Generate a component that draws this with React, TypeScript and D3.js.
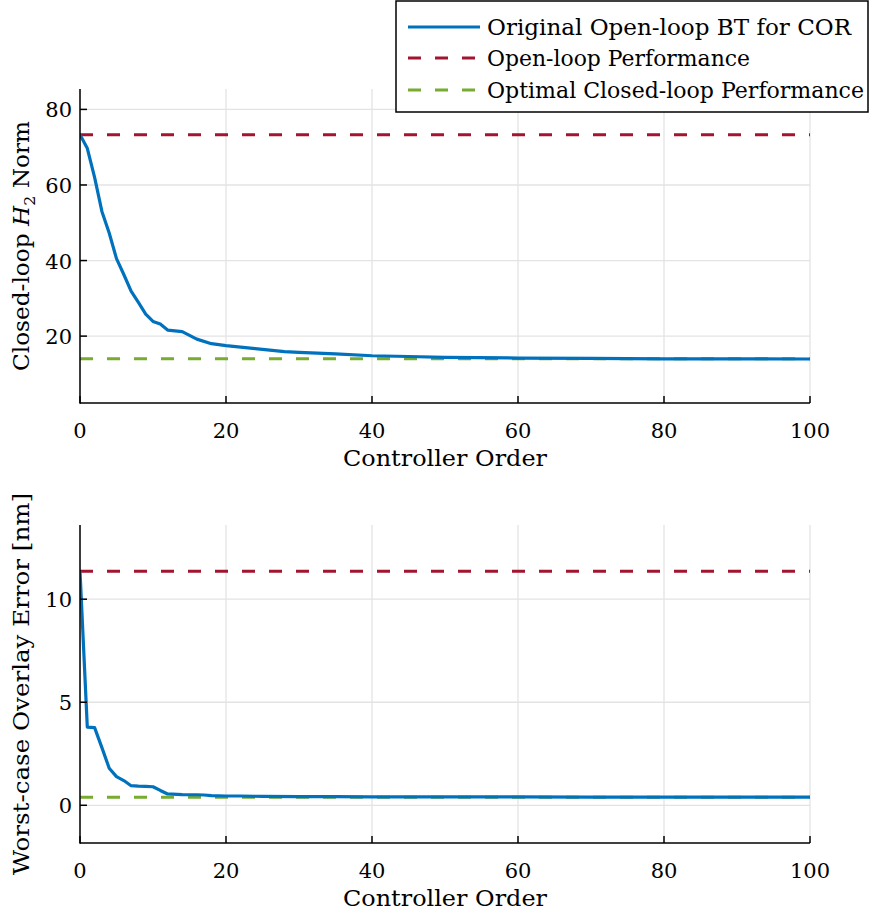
import React from "react";
import * as d3 from "d3";

const orders1 = [0,1,2,3,4,5,6,7,8,9,10,11,12,14,16,18,20,22,24,26,28,30,35,40,45,50,60,70,80,90,100];
const h2Norm = [73.3,69.7,62,53,47.3,40.5,36.3,31.9,28.9,25.8,23.9,23.2,21.6,21.2,19.2,18.0,17.5,17.1,16.7,16.3,15.9,15.7,15.3,14.8,14.6,14.4,14.2,14.1,14.0,14.0,13.95];
const h2OpenLoop = 73.3;
const h2Optimal = 14.0;

const orders2 = [0,1,2,3,4,5,6,7,8,9,10,11,12,14,16,17,18,20,22,25,30,35,40,50,60,70,80,90,100];
const overlayErr = [11.36,3.79,3.77,2.8,1.8,1.39,1.2,0.95,0.93,0.92,0.9,0.72,0.55,0.52,0.51,0.5,0.47,0.45,0.45,0.43,0.42,0.42,0.41,0.41,0.41,0.40,0.40,0.40,0.40];
const errOpenLoop = 11.36;
const errOptimal = 0.39;

const xTicks = [0,20,40,60,80,100];
const yTicks1 = [20,40,60,80];
const yTicks2 = [0,5,10];

const legendLabels = ["Original Open-loop BT for COR", "Open-loop Performance", "Optimal Closed-loop Performance"];

const BLUE = "#0072BD";
const RED = "#A2142F";
const GREEN = "#77AC30";
const FONT = "'DejaVu Serif', serif";
const FS = 21;

type PanelProps = {
  top: number; bottom: number; yDomain: [number, number]; yTicks: number[];
  xs: number[]; ys: number[]; open: number; opt: number; ylabel: React.ReactNode; clipId: string; ylabelLen: number;
};

function Panel({ top, bottom, yDomain, yTicks, xs, ys, open, opt, ylabel, clipId, ylabelLen }: PanelProps) {
  const left = 80, right = 810;
  const x = d3.scaleLinear().domain([0, 100]).range([left, right]);
  const y = d3.scaleLinear().domain(yDomain).range([bottom, top]);
  const line = d3.line<number>().x((_, i) => x(xs[i])).y((d) => y(d));
  const dash = "13 14";
  return (
    <g>
      <defs>
        <clipPath id={clipId}><rect x={left} y={top} width={right - left} height={bottom - top} /></clipPath>
      </defs>
      {xTicks.map((t) => (
        <line key={"gx" + t} x1={x(t)} x2={x(t)} y1={top} y2={bottom} stroke="#e3e3e3" strokeWidth={1.3} />
      ))}
      {yTicks.map((t) => (
        <line key={"gy" + t} x1={left} x2={right} y1={y(t)} y2={y(t)} stroke="#e3e3e3" strokeWidth={1.3} />
      ))}
      <g clipPath={`url(#${clipId})`}>
        <line x1={x(0)} x2={x(100)} y1={y(open)} y2={y(open)} stroke={RED} strokeWidth={3} strokeDasharray={dash} />
        <line x1={x(0)} x2={x(100)} y1={y(opt)} y2={y(opt)} stroke={GREEN} strokeWidth={3} strokeDasharray={dash} />
        <path d={line(ys) || ""} fill="none" stroke={BLUE} strokeWidth={3.2} strokeLinejoin="round" />
      </g>
      <line x1={left} x2={left} y1={top} y2={bottom + 0.75} stroke="#000" strokeWidth={1.5} />
      <line x1={left} x2={right} y1={bottom} y2={bottom} stroke="#000" strokeWidth={1.5} />
      {xTicks.map((t) => (
        <g key={"xt" + t}>
          <line x1={x(t)} x2={x(t)} y1={bottom} y2={bottom - 7} stroke="#000" strokeWidth={1.5} />
          <text x={x(t)} y={bottom + 35} textAnchor="middle" fontFamily={FONT} fontSize={FS}>{t}</text>
        </g>
      ))}
      {yTicks.map((t) => (
        <g key={"yt" + t}>
          <line x1={left} x2={left + 7} y1={y(t)} y2={y(t)} stroke="#000" strokeWidth={1.5} />
          <text x={left - 8} y={y(t) + 8} textAnchor="end" fontFamily={FONT} fontSize={FS}>{t}</text>
        </g>
      ))}
      <text x={445} y={bottom + 63} textAnchor="middle" fontFamily={FONT} fontSize={FS + 1} textLength={204} lengthAdjust="spacingAndGlyphs">Controller Order</text>
      <text transform={`translate(29, ${(top + bottom) / 2}) rotate(-90)`} textAnchor="middle" fontFamily={FONT} fontSize={FS + 1} textLength={ylabelLen} lengthAdjust="spacingAndGlyphs">{ylabel}</text>
    </g>
  );
}

export default function App() {
  const lx0 = 396, ly0 = 1, lw = 472, lh = 111;
  const rows = [27, 58, 90];
  const lens = [364, 263, 377];
  return (
    <svg width={869} height={912} style={{ display: "block", position: "absolute", left: 0, top: 0, background: "#fff" }}>
      <rect width={869} height={912} fill="#fff" />
      <Panel top={89} bottom={403} yDomain={[2.3, 85.4]} yTicks={yTicks1} xs={orders1} ys={h2Norm}
        open={h2OpenLoop} opt={h2Optimal} clipId="c1" ylabelLen={250}
        ylabel={<>Closed-loop <tspan fontStyle="italic">H</tspan><tspan fontSize={15} dy={6}>2</tspan><tspan dy={-6}> Norm</tspan></>} />
      <Panel top={525} bottom={843} yDomain={[-1.83, 13.6]} yTicks={yTicks2} xs={orders2} ys={overlayErr}
        open={errOpenLoop} opt={errOptimal} clipId="c2" ylabelLen={382} ylabel="Worst-case Overlay Error [nm]" />
      <g>
        <rect x={lx0} y={ly0} width={lw} height={lh} fill="#fff" stroke="#000" strokeWidth={1.5} />
        {legendLabels.map((lab, i) => (
          <g key={lab}>
            <line x1={408} x2={480} y1={rows[i]} y2={rows[i]} stroke={[BLUE, RED, GREEN][i]} strokeWidth={3}
              strokeDasharray={i === 0 ? undefined : "13 14"} />
            <text x={487} y={rows[i] + 8} fontFamily={FONT} fontSize={FS + 1} textLength={lens[i]} lengthAdjust="spacingAndGlyphs">{lab}</text>
          </g>
        ))}
      </g>
    </svg>
  );
}
